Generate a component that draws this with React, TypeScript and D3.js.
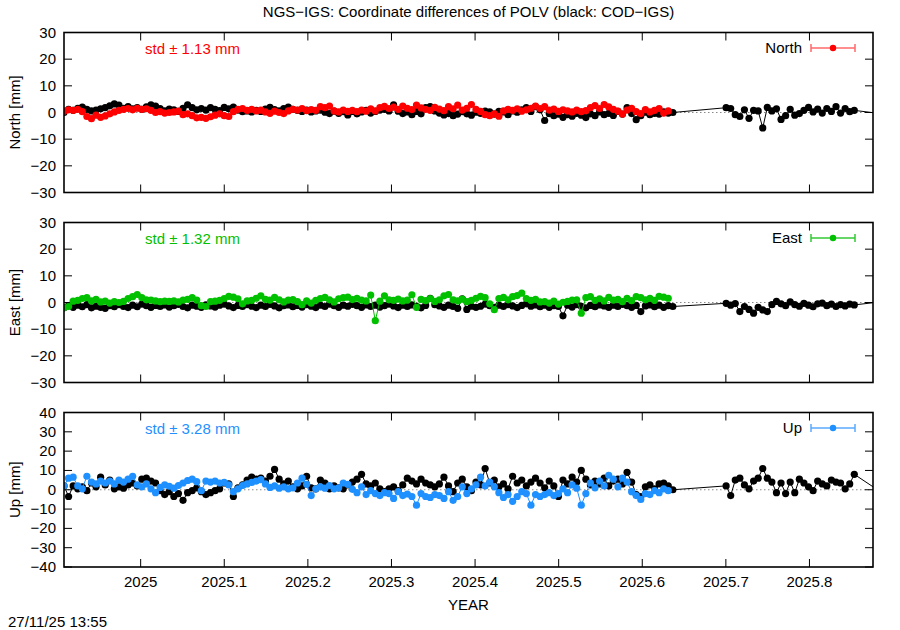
import React from "react";
import * as d3 from "d3";

// ---------- data ----------
const startYear = 2024.9083; // first daily solution (decimal year)
const extStartYear = 2025.7003; // COD-IGS resumes after the gap
const tailYear = 2025.89; // next COD-IGS point (outside the plotted range)
const stepDays = 2;

const northNGS = [
  0.5, 1, 0.8, 1.2, 0.3, -1.5, -2.3, -1, -1.8, -1.3, -0.5, 0.2, 0.8, 1.2, 1.5, 1.0, 1.6, 1.2, 1.4,
  0.8, 0, 0.3, -0.2, 0, 0.2, 0.5, -0.8, -0.5, -1.2, -2, -1.8, -2.2, -1.6, -1.0, -0.5, -1.2, -1.5, 0.3,
  1.2, 1.5, 0.8, 1.2, 0.6, 0.9, 0.2, -0.3, 0.5, 0, -0.4, 0.6, 1.2, 0.9, 1.5, 0.7, 1.1, 0.8, 2.2, 1.8,
  2.4, 0.6, 0.2, 0.9, 0.4, 0.8, 0.3, 0.9, 0.5, 1.4, 0.6, 1.8, 2.3, 1.5, 2.0, 1.2, 2.4, 1.6, 1.1, 2.8,
  1.7, 1.2, 0.8, 1.9, 1.3, 0.7, 2.2, 1.4, 2.8, 0.9, 1.6, 3.0, 1.2, 0.4, -0.8, -1.2, -0.5, -1.4, 0.6,
  1.2, 0.8, 1.4, 0.5, 1.0, 1.6, 2.4, 1.5, 2.2, 0.9, 1.3, 0.4, 1.0, 0.6, 0.2, 0.9, 0.3, 0.7, 1.8, 2.6,
  1.5, 3.0, 2.1, 1.2, 0.5, -0.6, 0.9, 1.6, 0.3, -0.4, 1.1, 0.2, 0.8, 1.5, -0.2, 0.6,
];
const northCOD = [
  0, 1.2, 0.8, 1.6, 2.0, 1.2, 0.6, 0.9, 1.4, 1.8, 2.5, 3.2, 2.8, 1.6, 2.2, 1.4, 1.8, 1.2, 2.1, 2.9,
  2.4, 1.5, 0.6, 1.3, 1.0, 0.4, 1.6, 2.9, 1.8, 1.0, 1.5, 0.9, 1.8, 1.2, 0.7, 1.9, 1.4, 2.0, 0.9, 0.3,
  0.6, 0.2, 0.8, 0.4, 1.3, 1.9, 1.1, 0.6, 1.5, 2.0, 1.2, 0.8, 0.4, 0.9, 0.2, 0.6, 0.9, 0.1, -0.4, 0.5,
  -0.3, 0.3, -0.9, 0.4, -0.5, 0.2, 0.8, -0.2, 0.4, 0.9, 1.2, 0.6, 2.9, 0.5, -0.4, 0.2, -0.8, 0.4, -0.5,
  1.8, 2.2, 0.6, -0.2, -0.9, -0.4, -1.2, -0.6, 0.3, -0.5, -1.0, 0.1, -0.3, 0.5, 0.2, -0.6, 0.4, 0.2,
  -0.8, 0.6, 0.1, 1.0, 1.8, 0.4, 2.2, 1.0, -3.0, -0.4, -1.2, -0.6, -1.8, -0.8, -1.4, -0.3, -1.0, -1.9,
  -0.5, -1.2, 0.2, -0.8, -0.3, -1.1, 0.4, -0.6, 1.8, -0.4, -2.7, -1.2, 0.1, -0.8, -0.3, -0.6, 0.2,
  -0.2, 0,
];
const northCODExt = [
  1.8, 1.5, -0.8, -1.5, 1.0, -2.2, 0.8, 0.6, -5.8, 1.9, 0.6, 1.4, -2.6, -1.2, 1.2, -1.0, -0.4, 0.8,
  1.9, 0.2, 1.3, -0.2, 1.5, 0.4, 2.2, -0.2, 1.5, 0.3, 0.8,
];
const northCODTail = -0.6;

const eastNGS = [
  -2.0, -1.5, 0.5, 0.8, 1.5, 1.8, 0.6, 1.2, 0.2, 0.5, -0.2, 0.3, 0.0, 0.4, 1.5, 2.2, 3.0, 1.8, 1.0,
  0.9, 0.6, 0.3, 0.5, 0.4, 0.6, 0.2, 0.9, 1.2, 1.8, 0.9, -1.2, -1.5, 0.3, 0.5, 0.8, 1.5, 2.3, 2.0, 1.4,
  -0.5, 0.6, 0.8, 1.6, 2.5, 1.2, 0.9, 1.9, 1.0, 0.2, 0.9, 1.1, 0.3, -0.8, 0.6, -0.2, 0.8, 1.5, 1.9,
  1.0, 0.2, 1.4, 1.8, 2.0, 1.1, 1.6, 0.9, 0.6, 2.8, -6.8, 0.5, 2.5, 1.0, 0.8, 1.3, 0.6, 0.9, 2.9, -1.8,
  1.2, 0.7, 1.5, 0.4, 1.0, 2.5, 3.0, 1.0, 0.6, 1.3, 0.3, 0.8, 1.6, 2.3, 1.8, -0.5, -2.7, 1.5, 1.9,
  1.0, 2.2, 2.6, 3.5, 1.5, 0.8, 1.2, 0.2, 0.3, -0.2, 0.5, -0.6, 0.1, 0.4, 0.9, 1.0, -4.0, 1.8, 2.2,
  0.8, 1.4, 0.6, 1.9, 0.9, 1.2, 0.3, 1.6, 0.7, 2.2, 1.8, 1.0, 1.6, 0.8, 2.3, 2.0, 1.6,
];
const eastCOD = [
  -2.0, -1.2, -1.8, -1.0, -1.6, -0.8, -2.0, -1.4, -1.8, -2.2, -1.2, -1.6, -0.8, -1.5, -1.9, -1.0,
  -1.6, -0.6, -1.2, -1.8, -1.1, -1.5, -0.9, -1.7, -1.2, -0.7, -1.5, -2.0, -1.0, -1.4, -1.8, -0.9,
  -1.3, -1.7, -1.0, -0.6, -1.3, -1.9, -1.1, -1.5, -0.8, -1.4, -1.9, -1.0, -1.5, -0.7, -1.3, -2.0,
  -1.2, -0.9, -1.6, -1.1, -1.7, -0.8, -1.4, -1.9, -1.0, -1.5, -0.6, -1.2, -1.8, -1.0, -1.4, -0.7,
  -1.2, -1.8, -0.9, -1.5, -1.0, -1.7, -1.2, -0.6, -1.3, -1.9, -1.0, -1.5, -0.9, -1.4, -2.0, -1.1,
  1.6, -0.8, -1.3, -1.8, -1.0, -1.5, -2.2, 1.4, -2.6, -1.4, -1.8, -1.4, -0.6, -1.2, -1.8, -1.0,
  -1.5, -0.8, -1.3, -1.9, -1.1, -0.5, -1.4, -0.9, -1.6, -1.0, -1.8, -1.2, -1.5, -5.0, -1.0, -1.7,
  -0.8, -1.4, -2.0, -1.1, -1.6, -0.9, -1.3, -1.8, -1.0, -1.5, -0.7, -1.2, -1.8, -1.1, -3.4, -1.3,
  -0.9, -1.6, -1.0, -1.8, -1.2, -1.5,
];
const eastCODExt = [
  -0.3, -1.0, -0.4, -3.4, -1.5, -2.6, -4.0, -1.8, -2.8, -3.4, -0.8, 0.4, -0.5, -1.2, 0.2, -0.8, -1.4,
  -0.3, -1.0, -1.6, -0.5, -0.2, -1.2, -0.6, -1.5, -0.8, -1.3, -0.6, -0.9,
];
const eastCODTail = 0.4;

const upNGS = [
  2, 6, 6.5, 2, 0.5, 7, 4, 3, 4.5, 3.5, 4.5, 3, 5, 4, 5.5, 7, 2.5, 1.5, 3, 0.5, -1.5, 1.2, 2.5, 1.8,
  0.8, 2.2, 3.5, 4.8, 5.5, 4.2, -0.5, 4.5, 4.0, 4.5, 3.5, 3.8, 2.5, -1.0, 0.5, 2.2, 3.0, 3.8, 4.5, 5.2,
  3.0, 1.2, 2.0, 0.8, 1.5, 0.5, 1.0, 3.5, 6.0, 2.8, -3.0, 0.5, 1.5, 0.8, 2.2, 0.5, 1.0, 3.5, 2.8, 0.2,
  -1.5, 1.5, -2.5, -0.5, -2.0, -3.0, -1.5, -2.0, -4.5, -1.0, -3.0, -2.2, -3.5, -8.0, -2.0, -3.5, -4.0,
  -2.5, -3.0, -4.5, -1.0, -5.5, -3.5, 1.5, -2.0, 0.5, 2.5, 6.5, 2.0, 4.0, 1.5, -1.5, -4.0, -2.5, -6.0,
  -3.5, -1.0, -2.0, -8.0, -2.5, -3.5, -2.5, -1.5, -3.0, -2.0, 0.5, -1.5, 2.5, 0.8, -8.0, -2.0, 3.5,
  1.0, 4.5, 2.0, 7.5, 5.5, 1.5, 6.0, 4.0, -1.0, -3.0, -5.0, -2.0, -2.5, -0.5, -1.5, 0.5, -0.5,
];
const upCOD = [
  2, -3.5, 2, 0.5, 1.5, -0.5, 3.5, 1.5, 6.5, 2.5, 5.0, 0.5, 1.5, 0.8, 2.5, 3.5, 2.0, 5.5, 6.0, 4.5,
  3.5, -0.5, -2.5, -1.0, -3.5, -2.0, -5.5, -1.5, -0.5, 1.0, -1.0, -2.5, -1.5, -0.5, 0.5, 3.5, 3.0,
  -3.5, 1.0, 2.5, 5.0, 6.5, 5.5, 6.0, 4.5, 7.0, 10.5, 5.5, 3.0, 4.5, 1.5, 0.5, 2.0, 7.0, 1.0, 0.5,
  5.0, 3.5, 0.5, 2.0, 1.0, 0.5, 2.5, 4.0, 5.5, 8.0, 3.0, 2.0, 3.5, 0.5, -1.0, 0.5, 1.5, -0.5, 2.5,
  6.0, 4.5, 3.0, 5.5, 3.5, 2.5, 1.5, 3.0, 6.5, 2.0, -1.0, 3.5, 5.5, 1.5, -0.5, 4.0, 2.5, 11.0, 3.5,
  5.0, 1.5, 3.0, 0.5, 7.0, 3.5, 5.0, 2.0, 4.0, 6.0, 3.5, 1.0, 4.5, 2.0, -3.5, 5.0, 3.0, 6.5, 4.0,
  10.0, 5.5, 2.5, 4.5, 3.0, 6.0, 2.0, 4.5, 5.5, 3.0, 9.0, 4.0, -2.5, -3.5, 1.5, 2.5, 0.5, 3.0, 3.5,
  2.0, 0,
];
const upCODExt = [
  2.0, -3.0, 5.0, 6.0, 2.5, 0.5, 4.5, 6.0, 11.0, 6.0, 4.0, -1.5, 3.5, -2.0, 4.0, -1.5, 5.5, 3.5, 1.5,
  -0.5, 4.5, 3.0, 2.0, 5.0, 4.0, 3.5, 0.5, 3.0, 8.0,
];
const upCODTail = -2.5;

const xTicks = [2025, 2025.1, 2025.2, 2025.3, 2025.4, 2025.5, 2025.6, 2025.7, 2025.8];
const xTickLabels = ["2025", "2025.1", "2025.2", "2025.3", "2025.4", "2025.5", "2025.6", "2025.7", "2025.8"];
const yTicksNE = [-30, -20, -10, 0, 10, 20, 30];
const yTicksUp = [-40, -30, -20, -10, 0, 10, 20, 30, 40];

const componentNames = ["North", "East", "Up"];
const stdValues = ["1.13", "1.32", "3.28"];
const colors = ["#ff0000", "#00c000", "#1e90ff"];
const legendLineColors = ["#ff6a6a", "#33c833", "#5aaaff"];

const titleText = "NGS\u2212IGS: Coordinate differences of POLV (black: COD\u2212IGS)";
const timestamp = "27/11/25 13:55";

// ---------- layout ----------
const W = 900;
const H = 630;
const left = 64;
const right = 873;
const panelBoxes = [
  { top: 32.5, bottom: 192.5 },
  { top: 222.5, bottom: 382.5 },
  { top: 412.5, bottom: 567 },
];
const FONT = "'Liberation Sans', Arial, Helvetica, sans-serif";
const FS = 15;
const R = 3.6;
const MINUS = "\u2212";

type Pt = { t: number; v: number };

function toPoints(start: number, vals: number[]): Pt[] {
  return vals.map((v, i) => ({ t: start + (i * stepDays) / 365.25, v }));
}

const fmt = (n: number) => (n < 0 ? MINUS + Math.abs(n) : String(n));

export default function App() {
  const x = d3.scaleLinear().domain([2024.9083, 2025.876]).range([left, right]);

  const panels = [
    { ngs: northNGS, cod: northCOD, ext: northCODExt, tail: northCODTail, ticks: yTicksNE, dom: [-30, 30] },
    { ngs: eastNGS, cod: eastCOD, ext: eastCODExt, tail: eastCODTail, ticks: yTicksNE, dom: [-30, 30] },
    { ngs: upNGS, cod: upCOD, ext: upCODExt, tail: upCODTail, ticks: yTicksUp, dom: [-40, 40] },
  ];

  return (
    <svg
      width={W}
      height={H}
      style={{ position: "absolute", left: 0, top: 0, background: "#fff" }}
      fontFamily={FONT}
    >
      <rect x={0} y={0} width={W} height={H} fill="#fff" />
      <defs>
        {panelBoxes.map((b, k) => (
          <clipPath id={`clip${k}`} key={k}>
            <rect x={left} y={b.top} width={right - left} height={b.bottom - b.top} />
          </clipPath>
        ))}
      </defs>
      <text x={(left + right) / 2} y={17} textAnchor="middle" fontSize={FS} fill="#000">
        {titleText}
      </text>

      {panels.map((p, k) => {
        const b = panelBoxes[k];
        const y = d3.scaleLinear().domain(p.dom).range([b.bottom, b.top]);
        const ngsPts = toPoints(startYear, p.ngs);
        const codPts = [
          ...toPoints(startYear, p.cod),
          ...toPoints(extStartYear, p.ext),
        ];
        const codLinePts = [...codPts, { t: tailYear, v: p.tail }];
        const line = d3
          .line<Pt>()
          .x((d) => x(d.t))
          .y((d) => y(d.v));
        const col = colors[k];
        const midY = (b.top + b.bottom) / 2;
        const legY = b.top + 15.5;
        return (
          <g key={k}>
            {/* zero line */}
            <line
              x1={left}
              x2={right}
              y1={y(0)}
              y2={y(0)}
              stroke="#888"
              strokeWidth={1}
              strokeDasharray="1.5,2.5"
            />
            {/* ticks */}
            {p.ticks.map((t) => (
              <g key={"y" + t}>
                <line x1={left} x2={left + 8} y1={y(t)} y2={y(t)} stroke="#000" strokeWidth={1} />
                <line x1={right - 8} x2={right} y1={y(t)} y2={y(t)} stroke="#000" strokeWidth={1} />
                <text x={56} y={y(t) + 5} textAnchor="end" fontSize={FS} fill="#000">
                  {fmt(t)}
                </text>
              </g>
            ))}
            {xTicks.map((t) => (
              <g key={"x" + t}>
                <line x1={x(t)} x2={x(t)} y1={b.bottom} y2={b.bottom - 8} stroke="#000" strokeWidth={1} />
                <line x1={x(t)} x2={x(t)} y1={b.top} y2={b.top + 8} stroke="#000" strokeWidth={1} />
              </g>
            ))}
            <text
              transform={`translate(20,${midY}) rotate(-90)`}
              textAnchor="middle"
              fontSize={FS}
              fill="#000"
            >
              {`${componentNames[k]} [mm]`}
            </text>

            <g clipPath={`url(#clip${k})`}>
              <path d={line(codLinePts) || ""} fill="none" stroke="#000" strokeWidth={1} />
              {codPts.map((d, i) => (
                <circle key={"c" + i} cx={x(d.t)} cy={y(d.v)} r={R} fill="#000" />
              ))}
              <path d={line(ngsPts) || ""} fill="none" stroke={col} strokeWidth={1} />
              {ngsPts.map((d, i) => (
                <circle key={"n" + i} cx={x(d.t)} cy={y(d.v)} r={R} fill={col} />
              ))}
            </g>

            {/* std text */}
            <text x={145} y={b.top + 21} fontSize={FS} fill={col}>
              {`std \u00b1 ${stdValues[k]} mm`}
            </text>

            {/* legend */}
            <text x={802} y={legY + 5} textAnchor="end" fontSize={FS} fill="#000">
              {componentNames[k]}
            </text>
            <line x1={811} x2={855} y1={legY} y2={legY} stroke={legendLineColors[k]} strokeWidth={1.5} />
            <line x1={811} x2={811} y1={legY - 4} y2={legY + 4} stroke={legendLineColors[k]} strokeWidth={1.5} />
            <line x1={855} x2={855} y1={legY - 4} y2={legY + 4} stroke={legendLineColors[k]} strokeWidth={1.5} />
            <circle cx={833} cy={legY} r={3.2} fill={col} />

            {/* frame */}
            <rect
              x={left}
              y={b.top}
              width={right - left}
              height={b.bottom - b.top}
              fill="none"
              stroke="#000"
              strokeWidth={1.6}
            />
          </g>
        );
      })}

      {xTicks.map((t, i) => (
        <text key={"xl" + t} x={x(t)} y={587} textAnchor="middle" fontSize={FS} fill="#000">
          {xTickLabels[i]}
        </text>
      ))}
      <text x={(left + right) / 2} y={610} textAnchor="middle" fontSize={FS} fill="#000">
        YEAR
      </text>
      <text x={8} y={627} fontSize={FS} fill="#000">
        {timestamp}
      </text>
    </svg>
  );
}
